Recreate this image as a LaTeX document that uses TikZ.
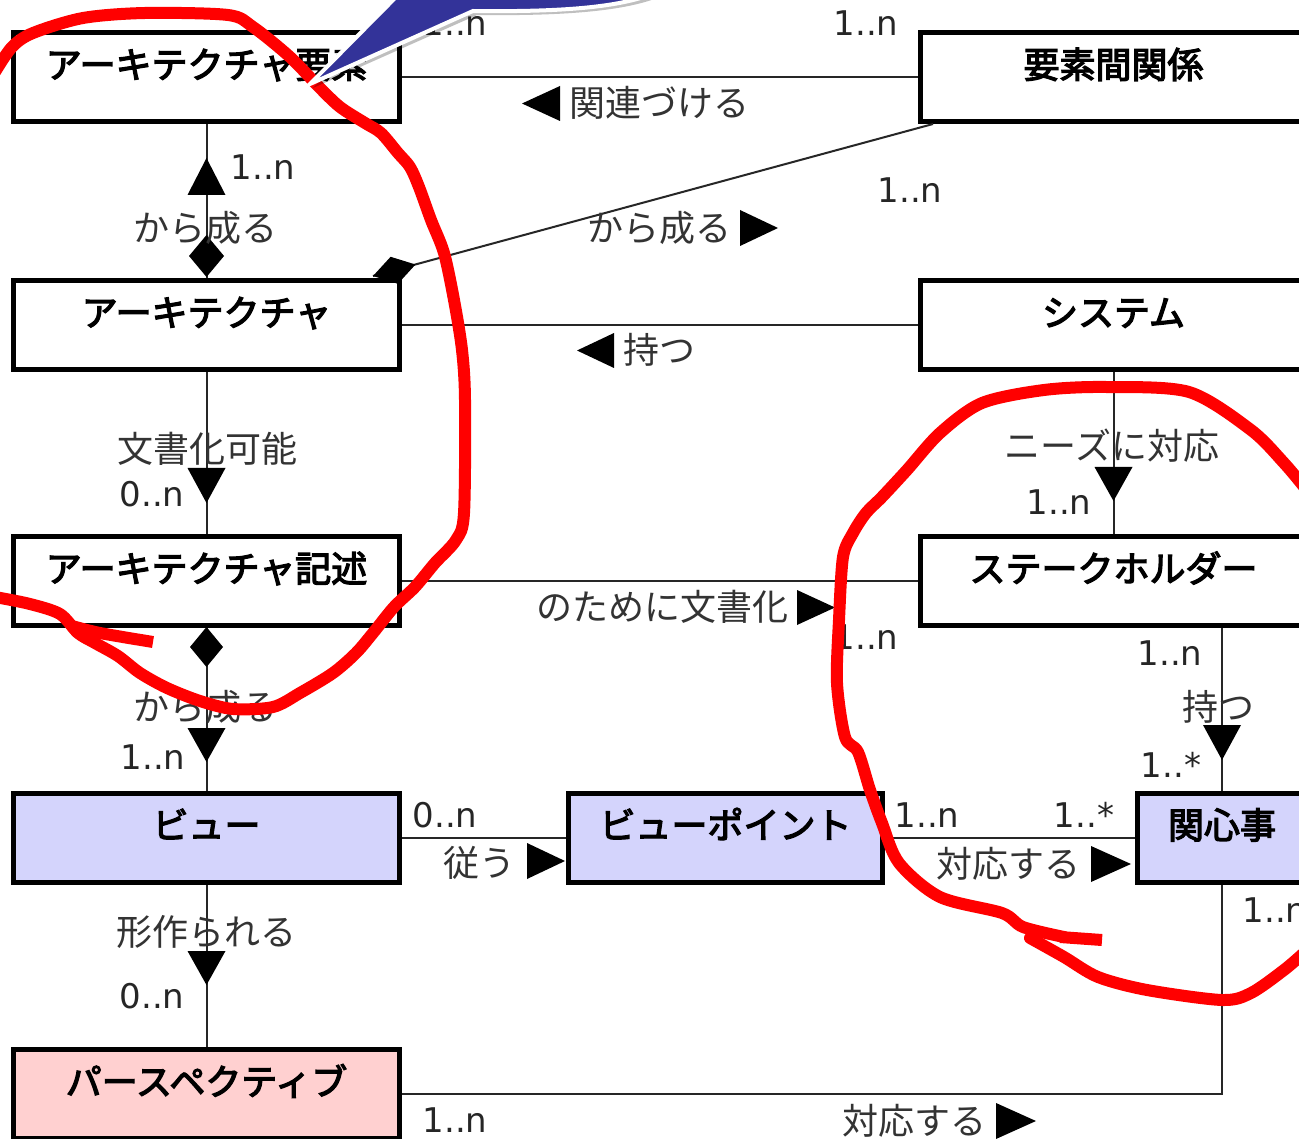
\documentclass[tikz,border=0pt]{standalone}
\usepackage{fontspec}
\setmainfont{DejaVu Sans}
\newfontfamily\cjk{Noto Sans CJK JP}
\newfontfamily\cjkt{Noto Sans CJK JP}[FakeBold=3.5]
\usetikzlibrary{calc}
\definecolor{lav}{RGB}{212,212,252}
\definecolor{pinkf}{RGB}{255,208,208}
\definecolor{callblue}{RGB}{51,51,153}
\definecolor{pen}{RGB}{255,0,0}
\begin{document}
\begin{tikzpicture}[x=1pt,y=-1pt,
  box/.style={draw=black, line width=5pt, minimum width=#1, minimum height=89pt,
    inner sep=0pt, text height=31pt, text depth=29pt,
    font=\cjkt\fontsize{36}{40}\selectfont},
  conn/.style={draw=black!85, line width=2pt},
  head/.style={fill=black},
  lab/.style={font=\cjk\fontsize{36}{40}\selectfont, text=black!80, inner sep=0pt},
  num/.style={font=\fontsize{34}{38}\selectfont, text=black!85, inner sep=0pt},
  redpen/.style={draw=pen, line width=12pt, line join=round},
]
\useasboundingbox (0,0) rectangle (1299,1139);
\clip (0,0) rectangle (1299,1139);
\fill[white] (0,0) rectangle (1299,1139);

% ---- boxes ----
\node[box=386pt] (ae) at (206.5,77) {アーキテクチャ要素};
\node[box=386pt] (er) at (1113.5,77) {要素間関係};
\node[box=386pt] (ar) at (206.5,325) {アーキテクチャ};
\node[box=386pt] (sy) at (1113.5,325) {システム};
\node[box=386pt] (ad) at (206.5,581) {アーキテクチャ記述};
\node[box=386pt] (sh) at (1113.5,581) {ステークホルダー};
\node[box=386pt, fill=lav] (vw) at (206.5,837.5) {ビュー};
\node[box=314pt, fill=lav] (vp) at (725.5,837.5) {ビューポイント};
\node[box=169pt, fill=lav] (cn) at (1222,837.5) {関心事};
\node[box=386pt, fill=pinkf] (ps) at (206.5,1094) {パースペクティブ};

% ---- connectors ----
\coordinate (dtip) at (373,276);
\draw[conn] (ae.east) -- (er.west);
\draw[conn] (ae.south) -- (ar.north);
\draw[conn] ([xshift=15pt]er.south west) -- (dtip);
\draw[conn] (ar.east) -- (sy.west);
\draw[conn] (ar.south) -- (ad.north);
\draw[conn] (sy.south) -- (sh.north);
\draw[conn] (ad.east) -- (sh.west);
\draw[conn] (ad.south) -- (vw.north);
\draw[conn] (cn.north |- sh.south) -- (cn.north);
\draw[conn] (vw.east) -- (vp.west);
\draw[conn] (vp.east) -- (cn.west);
\draw[conn] (vw.south) -- (ps.north);
\draw[conn] (ps.east) -| (cn.south);

% ---- arrow heads / diamonds ----
\fill[head] (206.5,158) -- (225.5,195) -- (187.5,195) -- cycle;
\fill[head] (206.5,235) -- (224,256) -- (206.5,277) -- (189,256) -- cycle;
\fill[head] (dtip) -- (390.6,256.8) -- (415.5,264.5) -- (397.9,283.8) -- cycle;
\fill[head] (187.5,468) -- (225.5,468) -- (206.5,503) -- cycle;
\fill[head] (1094.5,467) -- (1132.5,467) -- (1113.5,501) -- cycle;
\fill[head] (206.5,627) -- (223,647) -- (206.5,667) -- (190,647) -- cycle;
\fill[head] (187.5,728) -- (225.5,728) -- (206.5,762) -- cycle;
\fill[head] (1203,725) -- (1241,725) -- (1222,760) -- cycle;
\fill[head] (187.5,951) -- (225.5,951) -- (206.5,985) -- cycle;
% label direction triangles
\fill[head] (522,103.5) -- (560,86) -- (560,121) -- cycle;
\fill[head] (740,210) -- (778,228) -- (740,246) -- cycle;
\fill[head] (577,350.5) -- (614,333) -- (614,368) -- cycle;
\fill[head] (797,590) -- (835,607.5) -- (797,625) -- cycle;
\fill[head] (527,843) -- (565,861) -- (527,879) -- cycle;
\fill[head] (1091,846) -- (1131,864) -- (1091,882) -- cycle;
\fill[head] (996,1103) -- (1036,1121) -- (996,1139) -- cycle;

% ---- labels ----
\node[num] (m1) at (455,23) {1..n};
\node[num] (m2) at (866,23) {1..n};
\node[lab] (l1) at (659,103) {関連づける};
\node[num] (m3) at (263,167) {1..n};
\node[lab] (l2) at (205,228) {から成る};
\node[num] (m4) at (910,190) {1..n};
\node[lab] (l3) at (659,228) {から成る};
\node[lab] (l4) at (659,350) {持つ};
\node[lab] (l5) at (207,449) {文書化可能};
\node[num] (m5) at (152,494) {0..n};
\node[lab] (l6) at (1112,446) {ニーズに対応};
\node[num] (m6) at (1059,502) {1..n};
\node[lab] (l7) at (662,607) {のために文書化};
\node[num] (m7) at (866,637) {1..n};
\node[num] (m8) at (1170,653) {1..n};
\node[lab] (l8) at (1218,707) {持つ};
\node[num] (m9) at (1171,765) {1..*};
\node[lab] (l9) at (205,707) {から成る};
\node[num] (m10) at (153,757) {1..n};
\node[num] (m11) at (445,815) {0..n};
\node[lab] (l10) at (479,863) {従う};
\node[num] (m12) at (927,815) {1..n};
\node[num] (m13) at (1084,815) {1..*};
\node[lab] (l11) at (1008,864) {対応する};
\node[lab] (l12) at (206,932) {形作られる};
\node[num] (m14) at (152,996) {0..n};
\node[num] (m15) at (455,1120) {1..n};
\node[lab] (l13) at (914,1121) {対応する};
\node[num] (m16) at (1275,910) {1..n};

% ---- red hand-drawn annotations ----
\draw[redpen, line cap=round] plot[smooth, tension=0.5] coordinates {
  (-5,72) (12,47) (33,33) (83,18) (145,13) (228,15) (253,27) (290,57) (319,87)
  (340,107) (365,123) (381,133) (398,153) (410,167) (419,187) (431,220)
  (444,253) (454,300) (462,350) (465,400) (464,513) (456,540) (435,563)
  (415,587) (394,607) (373,633) (356,653) (333,673) (300,693) (273,707)
  (233,709) (200,701) (167,688) (140,673) (118,656) (95,643) (78,633)
  (60,614) (30,604) (-5,597)};
\draw[redpen, line cap=butt] plot[smooth, tension=0.5] coordinates {
  (72,626) (100,633) (153,642)};
\draw[redpen, line cap=round] plot[smooth, tension=0.5] coordinates {
  (1305,488) (1284,463) (1251,430) (1189,392) (1106,387) (1044,390) (982,403)
  (940,433) (907,470) (882,497) (866,513) (853,533) (843,557) (839,620)
  (837,683) (845,737) (858,752) (870,790) (882,823) (899,863) (940,897)
  (1002,913) (1023,927) (1064,937)};
\draw[redpen, line cap=butt] (1060,937) -- (1102,940);
\draw[redpen, line cap=round] plot[smooth, tension=0.5] coordinates {
  (1030,938) (1064,957) (1098,977) (1147,990) (1222,1000) (1251,993)
  (1284,970) (1305,952)};

% ---- blue callout (partly outside the picture) ----
\fill[black, opacity=0.25] (409,-8) -- (313,88) -- (477,15)
  .. controls (560,16) and (635,12) .. (670,-8) -- cycle;
\filldraw[fill=callblue, draw=white, line width=4pt, line join=miter]
  (405,-12) -- (310,84) -- (473,11) .. controls (560,12) and (630,8) .. (665,-12) -- cycle;
\end{tikzpicture}
\end{document}
